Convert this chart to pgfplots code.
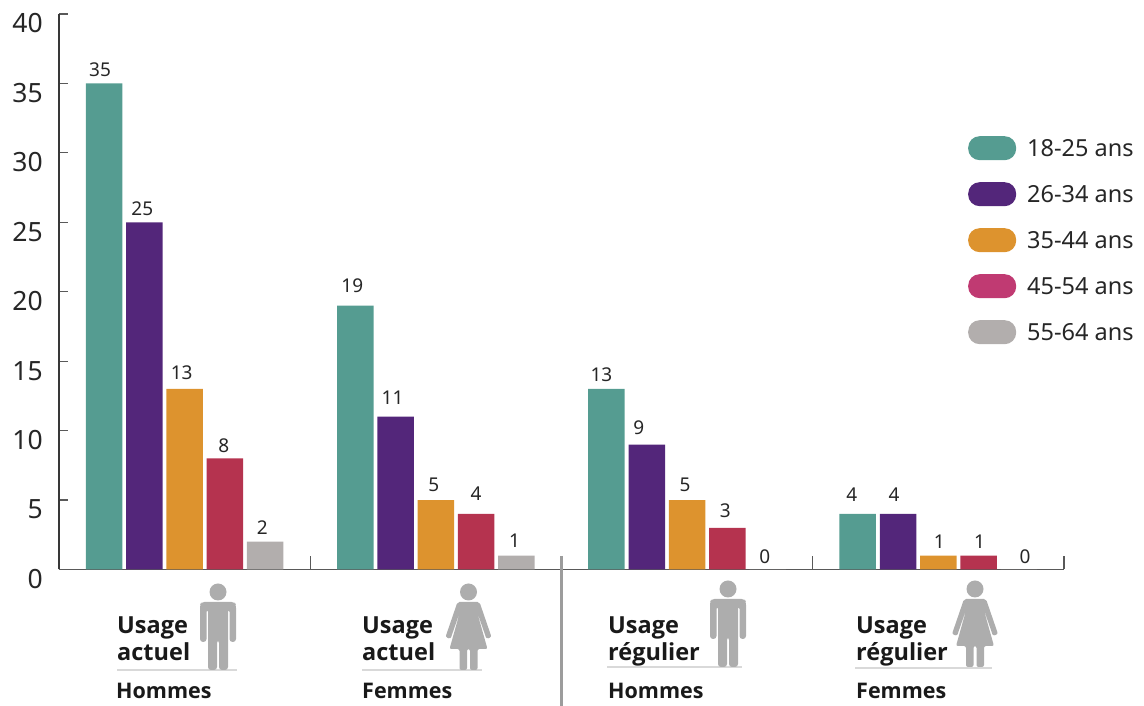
\documentclass[border=0pt]{standalone}
\usepackage{fontspec}
\setmainfont{Noto Sans}
\newfontfamily\lblfont{Open Sans}
\usepackage{pgfplots}
\pgfplotsset{compat=1.18}
\definecolor{cTeal}{HTML}{559C91}
\definecolor{cPurple}{HTML}{53267A}
\definecolor{cOrange}{HTML}{DD932E}
\definecolor{cRed}{HTML}{B5334F}
\definecolor{cMagenta}{HTML}{C03A72}
\definecolor{cGrey}{HTML}{B2AEAD}
\definecolor{cFig}{HTML}{ADADAD}
\definecolor{cSep}{HTML}{9C9C9C}

% group value label-gap label-dx
\pgfplotstableread{
g v gap dx
0 35 7 -4
1 19 13 -3
2 13 7 -5
3 4 12 -6
}\seriesA
\pgfplotstableread{
g v gap dx
0 25 6 -2
1 11 12 -3
2 9 10 -8
3 4 12 -4
}\seriesB
\pgfplotstableread{
g v gap dx
0 13 9 -3
1 5 8 -2
2 5 8 -2
3 1 7 1
}\seriesC
\pgfplotstableread{
g v gap dx
0 8 6 -1
1 4 13 0
2 3 10 -2
3 1 7 1
}\seriesD
\pgfplotstableread{
g v gap dx
0 2 7 -3
1 1 8 -2
2 0 6 -3
3 0 6 6
}\seriesE

\tikzset{
  man/.pic={
    \fill[cFig] (0,0) circle (8.5);
    \fill[cFig,rounded corners=3] (-16.5,10) -- (16.5,10) -- (18,13) -- (18,50) -- (11.5,50) -- (11.5,17)
      -- (10,17) -- (10,78) -- (1,78) -- (1,48) -- (-1,48) -- (-1,78) -- (-10,78) -- (-10,17) -- (-11.5,17)
      -- (-11.5,50) -- (-18,50) -- (-18,13) -- cycle;
  },
  woman/.pic={
    \fill[cFig] (0,0) circle (8.5);
    \fill[cFig,rounded corners=2] (-11,10) -- (11,10) -- (23,45) -- (18,47) -- (8,18) -- (19,57)
      -- (9,57) -- (9,78) -- (1.5,78) -- (1.5,57) -- (-1.5,57) -- (-1.5,78) -- (-9,78) -- (-9,57)
      -- (-19,57) -- (-8,18) -- (-18,47) -- (-23,45) -- cycle;
  },
}
\pgfplotsset{
  /pgfplots/ybar legend/.style={
    /pgfplots/legend image code/.code={
      \fill[##1,rounded corners=11.5pt] (0pt,-12pt) rectangle (48pt,12pt);
    },
  },
}
\newcommand{\legtext}[1]{\hspace*{9pt}\raisebox{-2pt}{#1}}

\begin{document}
\begin{tikzpicture}
\path[use as bounding box] (-59pt,-136.5pt) rectangle (1085pt,569.5pt);
\begin{axis}[
    scale only axis,
    width=1005pt, height=555.5pt,
    xmin=-0.5, xmax=3.5,
    ymin=0, ymax=40,
    clip=false,
    ybar=3.8pt,
    bar width=36.5pt,
    axis x line=bottom,
    axis y line=left,
    axis line style={-},
    x axis line style={color=black!65,line width=1.3pt},
    y axis line style={color=black!78,line width=1.8pt},
    xtick={0.5,1.5,2.5,3.5},
    xticklabels={},
    ytick={0,5,...,40},
    tick align=inside,
    x tick style={color=black!65,line width=1.2pt},
    y tick style={color=black!65,line width=1.2pt},
    major tick length=9pt,
    xtick style={/pgfplots/major tick length=13.5pt},
    /pgf/number format/assume math mode=true,
    yticklabel style={font=\fontsize{26.5}{26.5}\selectfont,color=black!85,anchor=east,inner sep=0pt,xshift=-16pt,yshift=-9.5pt},
    nodes near coords,
    every node near coord/.append style={font=\fontsize{19}{19}\selectfont,color=black!85,inner sep=0pt,anchor=south},
    visualization depends on={\thisrow{gap} \as \labgap},
    visualization depends on={\thisrow{dx} \as \labdx},
    every node near coord/.append style={yshift=\labgap pt,xshift=\labdx pt},
    legend style={at={(0.9045,0.7804)},anchor=north west,draw=none,fill=none,inner sep=0pt,
      font=\fontsize{23.5}{23.5}\selectfont,color=black!85,row sep=22pt},
    legend cell align=left,
]
\addplot[fill=cTeal,draw=none] table[x=g,y=v] {\seriesA};
\addplot[fill=cPurple,draw=none] table[x=g,y=v] {\seriesB};
\addplot[fill=cOrange,draw=none] table[x=g,y=v] {\seriesC};
\addplot[fill=cRed,draw=none,legend image post style={fill=cMagenta}] table[x=g,y=v] {\seriesD};
\addplot[fill=cGrey,draw=none] table[x=g,y=v] {\seriesE};
\addlegendentry{\legtext{18-25 ans}}
\addlegendentry{\legtext{26-34 ans}}
\addlegendentry{\legtext{35-44 ans}}
\addlegendentry{\legtext{45-54 ans}}
\addlegendentry{\legtext{55-64 ans}}
\end{axis}
% everything below in reference pixels, y downwards
\begin{scope}[shift={(-59pt,569.5pt)},x=1pt,y=-1pt]
\draw[color=cSep,line width=3pt] (561,556) -- (561,706);
\foreach \xa/\xb/\yy in {117/237/670,362/482/670,607/742/667,855/992/668}
  \draw[color=black!15,line width=1.2pt] (\xa,\yy) -- (\xb,\yy);
\pic at (218,592) {man};
\pic at (468.5,592) {woman};
\pic at (728,589) {man};
\pic at (975,589) {woman};
\tikzset{every node/.style={anchor=base west,inner sep=0pt,font=\fontsize{23.5}{23.5}\selectfont\lblfont\bfseries,color=black!90}}
\node at (117,634) {Usage};
\node at (117,661) {actuel};
\node at (362,634) {Usage};
\node at (362,661) {actuel};
\node at (608,634) {Usage};
\node at (608,661) {régulier};
\node at (856,634) {Usage};
\node at (856,661) {régulier};
\tikzset{every node/.style={anchor=base west,inner sep=0pt,font=\fontsize{21.5}{21.5}\selectfont\lblfont\bfseries,color=black!90}}
\node at (116,699) {Hommes};
\node at (362,699) {Femmes};
\node at (608,699) {Hommes};
\node at (856,699) {Femmes};
\end{scope}
\end{tikzpicture}
\end{document}
